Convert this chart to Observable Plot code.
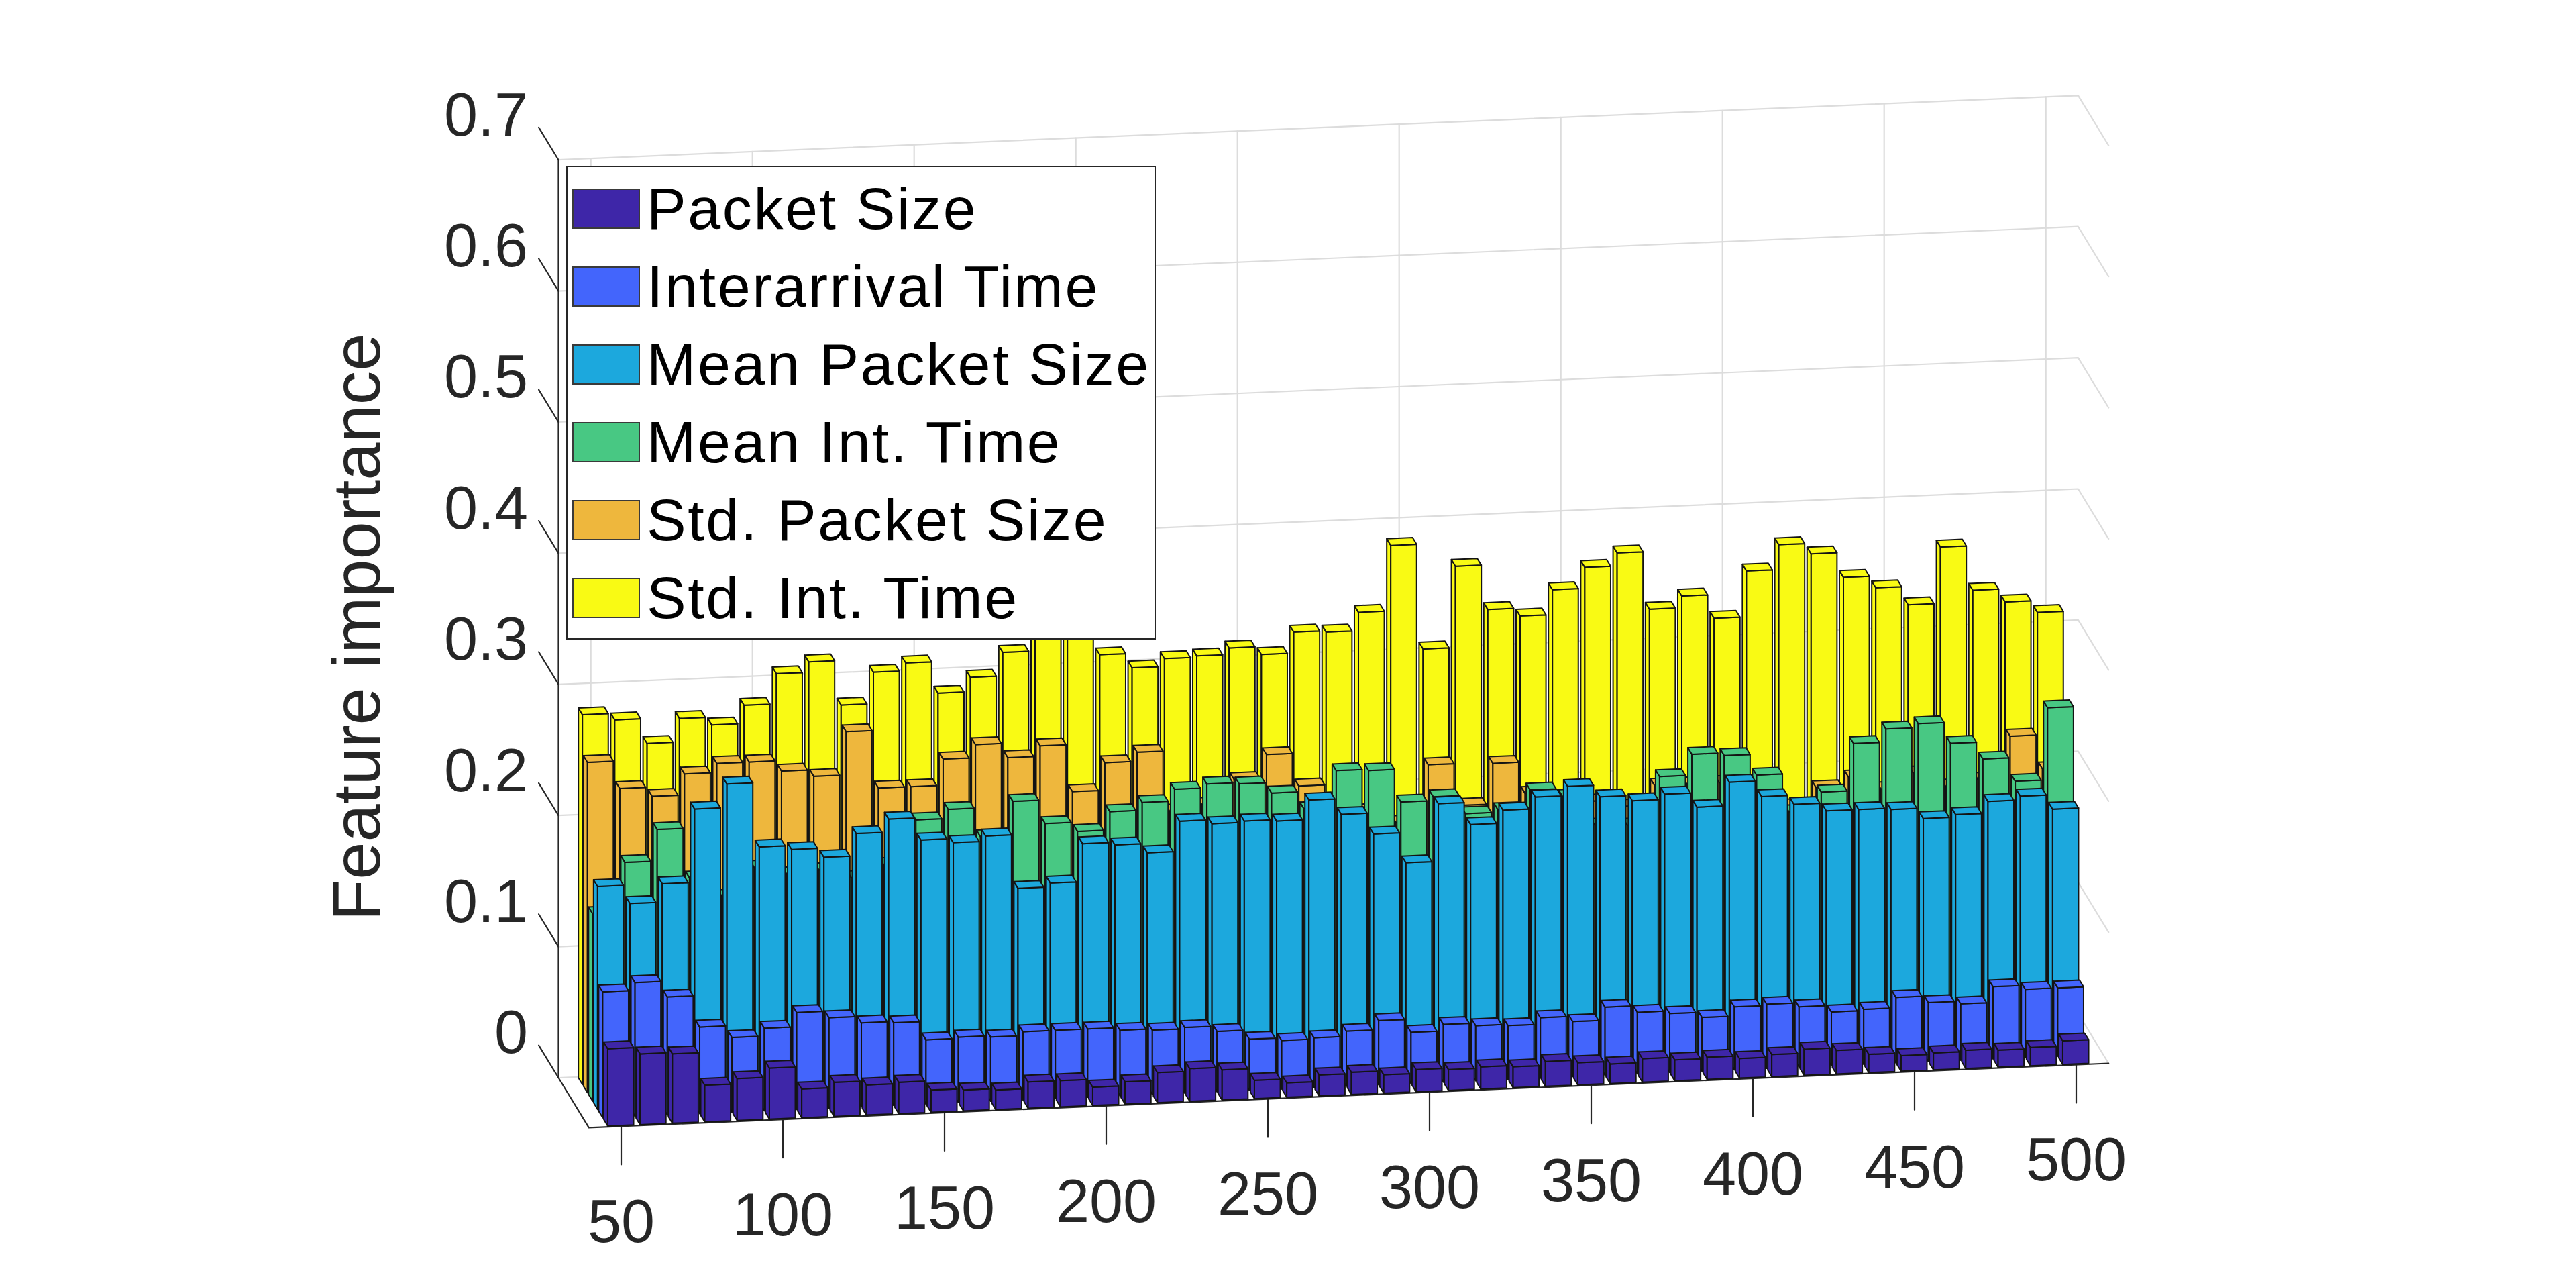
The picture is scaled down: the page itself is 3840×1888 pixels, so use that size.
<!DOCTYPE html>
<html>
<head>
<meta charset="utf-8">
<script src="https://cdn.jsdelivr.net/npm/d3@7"></script>
<script src="https://cdn.jsdelivr.net/npm/@observablehq/plot@0.6"></script>
<style>
  html, body { margin: 0; padding: 0; background: #fff; }
  #wrap { position: relative; width: 3840px; height: 1888px; overflow: hidden; background: #fff; }
  #legend { position: absolute; left: 844px; top: 247px; width: 875px; height: 702px;
            border: 2px solid #262626; background: #fff;
            font-family: "Liberation Sans", Arial, Helvetica, sans-serif; }
  .item { position: absolute; left: 7px; height: 60px; }
  .sw { position: absolute; left: 0; top: 0; width: 97px; height: 56px; border: 2px solid #3a3a3a; }
  .lab { position: absolute; left: 111px; top: -14px; font-size: 88px; line-height: 88px;
         letter-spacing: 2.6px; white-space: nowrap; color: #000; }
</style>
</head>
<body>
<div id="wrap"><div id="chart"></div><div id="legend"></div></div>
<script>
// ---- data ----
const categories = [50,60,70,80,90,100,110,120,130,140,150,160,170,180,190,200,210,220,230,240,
                    250,260,270,280,290,300,310,320,330,340,350,360,370,380,390,400,410,420,430,440,
                    450,460,470,480,490,500];
const xTickLabels = [50,100,150,200,250,300,350,400,450,500];
const zTicks = [0,0.1,0.2,0.3,0.4,0.5,0.6,0.7];
const zTickLabels = ["0","0.1","0.2","0.3","0.4","0.5","0.6","0.7"];
const seriesNames = ["Packet Size","Interarrival Time","Mean Packet Size","Mean Int. Time","Std. Packet Size","Std. Int. Time"];
const seriesColors = ["#3e26a8","#4365fc","#1ca8dd","#48c883","#eeb73d","#f9fa14"];

const packetSize = [0.059,0.054,0.053,0.028,0.032,0.039,0.022,0.026,0.023,0.024,
  0.017,0.016,0.015,0.020,0.020,0.014,0.017,0.023,0.025,0.023,
  0.014,0.011,0.016,0.017,0.014,0.017,0.016,0.017,0.016,0.019,
  0.017,0.015,0.018,0.016,0.017,0.015,0.017,0.020,0.018,0.014,
  0.012,0.013,0.014,0.013,0.014,0.018];
const interarrivalTime = [0.096,0.102,0.090,0.066,0.057,0.063,0.074,0.069,0.064,0.063,
  0.049,0.050,0.049,0.052,0.052,0.052,0.050,0.049,0.050,0.046,
  0.039,0.037,0.038,0.042,0.049,0.039,0.044,0.042,0.041,0.046,
  0.042,0.052,0.047,0.045,0.041,0.048,0.049,0.046,0.041,0.042,
  0.050,0.045,0.043,0.055,0.052,0.052];
const meanPacketSize = [0.170,0.156,0.170,0.226,0.244,0.195,0.192,0.185,0.202,0.212,
  0.195,0.192,0.196,0.155,0.158,0.187,0.185,0.178,0.201,0.198,
  0.199,0.198,0.213,0.201,0.185,0.162,0.206,0.189,0.199,0.208,
  0.215,0.206,0.202,0.206,0.195,0.213,0.201,0.194,0.188,0.188,
  0.187,0.179,0.181,0.190,0.193,0.182];
const meanIntTime = [0.143,0.181,0.205,0.167,0.152,0.173,0.167,0.169,0.162,0.171,
  0.204,0.211,0.189,0.215,0.197,0.190,0.204,0.210,0.219,0.222,
  0.221,0.213,0.200,0.228,0.227,0.202,0.205,0.191,0.193,0.207,
  0.201,0.178,0.177,0.213,0.229,0.227,0.211,0.182,0.196,0.232,
  0.242,0.245,0.229,0.216,0.198,0.253];
const stdPacketSize = [0.252,0.231,0.224,0.240,0.247,0.247,0.239,0.234,0.267,0.223,
  0.223,0.243,0.253,0.242,0.250,0.214,0.235,0.242,0.196,0.200,
  0.218,0.236,0.211,0.200,0.190,0.180,0.223,0.191,0.222,0.198,
  0.185,0.190,0.185,0.200,0.200,0.200,0.190,0.180,0.193,0.200,
  0.190,0.201,0.190,0.194,0.226,0.200];
const stdIntTime = [0.282,0.277,0.258,0.276,0.270,0.284,0.307,0.315,0.281,0.305,
  0.311,0.287,0.298,0.316,0.345,0.350,0.311,0.300,0.306,0.307,
  0.312,0.306,0.322,0.321,0.335,0.385,0.305,0.367,0.333,0.327,
  0.346,0.362,0.372,0.328,0.337,0.319,0.354,0.373,0.365,0.346,
  0.337,0.323,0.366,0.332,0.322,0.313];
const seriesValues = [packetSize, interarrivalTime, meanPacketSize, meanIntTime, stdPacketSize, stdIntTime];

// ---- 3D box (data space: [category index, value, row depth]) ----
const xLim = [-1, categories.length];       // category index limits
const dLim = [0.5, seriesNames.length + 0.5]; // row limits (front, back)
const zLim = [0, 0.7];
const halfW = 0.4;

// orthographic camera used as a Plot projection
const cam = {ox: 832, oy: 1605.5, ux: 48.2, uy: 2.04, dx: 7.55, dy: 12.4, zs: 1954};
const camera = d3.geoTransform({
  point(i, z, d) {
    const depth = d === undefined ? dLim[0] : d;
    const u = i - xLim[0], b = dLim[1] - depth;
    this.stream.point(cam.ox + cam.ux * u + cam.dx * b,
                      cam.oy - cam.uy * u + cam.dy * b - cam.zs * z);
  }
});

const poly = (ring, props) => ({type: "Feature", properties: props,
  geometry: {type: "Polygon", coordinates: [[...ring, ring[0]]]}});
const line = (pts) => ({type: "Feature", properties: {}, geometry: {type: "LineString", coordinates: pts}});

// faces, painter's order: back row first
const faces = [];
for (let s = seriesNames.length - 1; s >= 0; --s) {
  const k = s + 1, vals = seriesValues[s], props = {series: seriesNames[s]};
  vals.forEach((v, i) => {
    const l = i - halfW, r = i + halfW, f = k - halfW, bk = k + halfW;
    faces.push(poly([[l,0,f],[l,0,bk],[l,v,bk],[l,v,f]], props));   // left side
    faces.push(poly([[l,0,f],[r,0,f],[r,v,f],[l,v,f]], props));     // front
    faces.push(poly([[l,v,f],[r,v,f],[r,v,bk],[l,v,bk]], props));   // top
  });
}

const xTickIdx = xTickLabels.map(t => categories.indexOf(t));
const grid = [
  ...zTicks.map(z => line([[xLim[0],z,dLim[1]],[xLim[1],z,dLim[1]],[xLim[1],z,dLim[0]]])),
  ...xTickIdx.map(i => line([[i,zLim[1],dLim[1]],[i,0,dLim[1]],[i,0,dLim[0]]]))
];
const axes = [line([[xLim[0],zLim[1],dLim[1]],[xLim[0],0,dLim[1]],[xLim[0],0,dLim[0]],[xLim[1],0,dLim[0]]])];
const ticks = [
  ...xTickIdx.map(i => line([[i,0,dLim[0]],[i,-0.0292,dLim[0]]])),
  ...zTicks.map(z => line([[xLim[0],z,dLim[1]],[xLim[0],z,dLim[1] + 3.9]]))
];

const chart = Plot.plot({
  width: 3840,
  height: 1888,
  margin: 0,
  projection: camera,
  color: {type: "ordinal", domain: seriesNames, range: seriesColors},
  style: {fontFamily: '"Liberation Sans", Arial, Helvetica, sans-serif', background: "#fff", overflow: "visible"},
  marks: [
    Plot.geo(grid, {stroke: "#dcdcdc", strokeWidth: 2.2, fill: "none"}),
    Plot.geo(axes, {stroke: "#262626", strokeWidth: 2.2, fill: "none"}),
    Plot.geo(ticks, {stroke: "#262626", strokeWidth: 2.2, fill: "none"}),
    Plot.geo(faces, {fill: d => d.properties.series, stroke: "#141414", strokeWidth: 2, strokeLinejoin: "round"}),
    Plot.text(xTickIdx, {x: d => d, y: 0, text: (d, j) => String(xTickLabels[j]),
      dy: 144, fontSize: 90, fill: "#262626", textAnchor: "middle"}),
    Plot.text(zTicks, {x: xLim[0], y: d => d, text: (d, j) => zTickLabels[j],
      dx: -90.7, dy: -139.8, fontSize: 90, fill: "#262626", textAnchor: "end"}),
    Plot.text(["Feature importance"], {frameAnchor: "left", rotate: -90, dx: 533, dy: -10,
      fontSize: 101, fill: "#262626", textAnchor: "middle", lineAnchor: "middle"})
  ]
});
document.getElementById("chart").appendChild(chart);

// legend (MATLAB-style box inside the axes)
const legend = d3.select("#legend");
seriesNames.forEach((name, j) => {
  const it = legend.append("div").attr("class", "item").style("top", (32 + j * 116) + "px");
  it.append("div").attr("class", "sw").style("background", seriesColors[j]);
  it.append("div").attr("class", "lab").text(name);
});
</script>
</body>
</html>
